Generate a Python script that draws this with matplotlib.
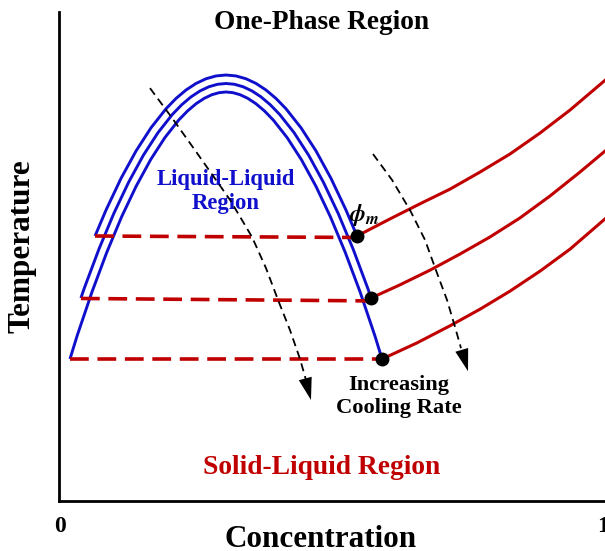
import matplotlib
matplotlib.use("Agg")
import matplotlib.pyplot as plt

plt.rcParams['font.family'] = ['Liberation Serif', 'DejaVu Serif']
plt.rcParams['font.weight'] = 'bold'
plt.rcParams['mathtext.fontset'] = 'stix'

BLUE = '#1010cc'
RED = '#c00000'

# ---- data (concentration 0..1, temperature arbitrary 0..100) ----
blue_outer_x = [0.0645, 0.0847, 0.1123, 0.1400, 0.1676, 0.1952, 0.2136, 0.2320, 0.2505, 0.2689,
                0.2873, 0.3057, 0.3241, 0.3425, 0.3610, 0.3794, 0.3978, 0.4162, 0.4438, 0.4715,
                0.4991, 0.5267, 0.5470]
blue_outer_y = [54.10, 59.41, 65.90, 71.52, 76.28, 80.17, 82.28, 84.01, 85.36, 86.32,
                86.90, 87.09, 86.90, 86.32, 85.36, 84.01, 82.28, 80.17, 76.28, 71.52,
                65.90, 59.41, 54.10]
blue_middle_x = [0.0385, 0.0442, 0.0717, 0.0990, 0.1263, 0.1534, 0.1804, 0.2069, 0.2243, 0.2414,
                 0.2581, 0.2744, 0.2902, 0.3057, 0.3212, 0.3370, 0.3533, 0.3700, 0.3871, 0.4045,
                 0.4311, 0.4580, 0.4851, 0.5124, 0.5398, 0.5672, 0.5729]
blue_middle_y = [41.39, 43.26, 51.42, 58.70, 65.11, 70.63, 75.27, 79.01, 81.01, 82.62,
                 83.84, 84.69, 85.19, 85.35, 85.19, 84.69, 83.84, 82.62, 81.01, 79.01,
                 75.27, 70.63, 65.11, 58.70, 51.42, 43.26, 41.39]
blue_inner_x = [0.0183, 0.0316, 0.0590, 0.0862, 0.1133, 0.1403, 0.1669, 0.1931, 0.2186, 0.2350,
                0.2508, 0.2658, 0.2799, 0.2931, 0.3057, 0.3184, 0.3315, 0.3456, 0.3606, 0.3764,
                0.3928, 0.4183, 0.4445, 0.4712, 0.4981, 0.5252, 0.5525, 0.5798, 0.5931]
blue_inner_y = [28.89, 33.69, 42.68, 50.78, 58.00, 64.32, 69.75, 74.26, 77.86, 79.74,
                81.23, 82.32, 83.06, 83.47, 83.61, 83.47, 83.06, 82.32, 81.23, 79.74,
                77.86, 74.26, 69.75, 64.32, 58.00, 50.78, 42.68, 33.69, 28.89]

red_top_x = [0.5470, 0.6077, 0.6630, 0.7182, 0.7735, 0.8287, 0.8840, 0.9392, 1.0037]
red_top_y = [54.1, 57.6, 60.7, 63.7, 67.2, 70.9, 75.2, 79.9, 86.0]
red_mid_x = [0.5729, 0.6262, 0.6814, 0.7366, 0.7919, 0.8471, 0.9024, 0.9576, 1.0037]
red_mid_y = [41.39, 44.1, 47.1, 50.4, 53.9, 57.8, 62.3, 67.2, 71.5]
red_bot_x = [0.5931, 0.6575, 0.7182, 0.7735, 0.8287, 0.8840, 0.9392, 1.0037]
red_bot_y = [28.89, 32.2, 35.7, 39.1, 42.8, 46.9, 51.4, 57.6]

tie_x_start = [0.0645, 0.0385, 0.0183]
tie_x_end = [0.5470, 0.5729, 0.5931]
tie_y_start = [54.1, 41.3, 28.9]
tie_y_end = [53.8, 40.8, 28.9]

dot_x = [0.5470, 0.5729, 0.5931]
dot_y = [54.1, 41.39, 28.89]

arrow1_x = [0.1657, 0.2063, 0.2523, 0.3131, 0.3536, 0.3794, 0.4015, 0.4236, 0.4420, 0.4530]
arrow1_y = [84.4, 78.3, 71.1, 61.5, 53.9, 47.5, 41.0, 34.8, 28.9, 24.6]
arrow1_tip = (0.4622, 20.5)
arrow2_x = [0.5764, 0.6114, 0.6446, 0.6722, 0.6943, 0.7127, 0.7274, 0.7385]
arrow2_y = [70.9, 65.6, 59.4, 53.3, 46.5, 41.0, 35.5, 31.1]
arrow2_tip = (0.7514, 26.4)

x_ticks = [0, 1]
x_tick_labels = ['0', '1']

# ---- figure ----
fig = plt.figure(figsize=(6.05, 5.51), dpi=100)
ax = fig.add_axes([58.5 / 605, 50 / 551, 546.5 / 605, 489 / 551])
ax.set_xlim(-0.0028, 1.0037)
ax.set_ylim(-0.2, 100)

for s in ['top', 'right']:
    ax.spines[s].set_visible(False)
for s in ['left', 'bottom']:
    ax.spines[s].set_linewidth(2.0)
    ax.spines[s].set_color('black')

ax.set_yticks([])
ax.set_xticks(x_ticks)
ax.set_xticklabels(x_tick_labels, fontsize=17, fontweight='bold')
ax.tick_params(axis='x', length=0, pad=11)

# blue binodal curves
for xs, ys in [(blue_outer_x, blue_outer_y), (blue_middle_x, blue_middle_y), (blue_inner_x, blue_inner_y)]:
    ax.plot(xs, ys, color=BLUE, lw=2.1, solid_capstyle='butt', solid_joinstyle='round', zorder=3)

# red dashed tie lines
for xs0, xs1, ys0, ys1 in zip(tie_x_start, tie_x_end, tie_y_start, tie_y_end):
    ax.plot([xs0, xs1], [ys0, ys1], color=RED, lw=2.6, dashes=(5.2, 2.4), zorder=4)

# red liquidus curves
for xs, ys in [(red_top_x, red_top_y), (red_mid_x, red_mid_y), (red_bot_x, red_bot_y)]:
    ax.plot(xs, ys, color=RED, lw=2.2, solid_joinstyle='round', zorder=3, clip_on=False)

# dots
ax.plot(dot_x, dot_y, 'o', color='black', ms=9, zorder=6)

# dashed arrows
for xs, ys, tip in [(arrow1_x, arrow1_y, arrow1_tip), (arrow2_x, arrow2_y, arrow2_tip)]:
    ax.plot(xs, ys, color='black', lw=1.3, dashes=(4.5, 2.8), zorder=5)
    ax.annotate('', xy=tip, xytext=(xs[-2], ys[-2]),
                arrowprops=dict(arrowstyle='-|>,head_length=1.0,head_width=0.3',
                                mutation_scale=16, lw=0, color='black',
                                shrinkA=0, shrinkB=0),
                zorder=5)

# texts
ax.text(0.4825, 97.95, 'One-Phase Region', ha='center', va='center', fontsize=19.7,
        fontweight='bold', color='black')
ax.text(0.3057, 63.2, 'Liquid-Liquid\nRegion', ha='center', va='center', fontsize=16.3,
        fontweight='bold', color=BLUE, linespacing=1.2)
ax.text(0.5600, 58.4, r'$\boldsymbol{\phi}_{\boldsymbol{m}}$', ha='center', va='center',
        fontsize=17, color='black')
ax.text(0.6243, 23.6, 'Increasing', ha='center', va='center', fontsize=16.2,
        fontweight='bold', color='black')
ax.text(0.6243, 18.9, 'Cooling Rate', ha='center', va='center', fontsize=16.2,
        fontweight='bold', color='black')
ax.text(0.4816, 6.6, 'Solid-Liquid Region', ha='center', va='center', fontsize=19.8,
        fontweight='bold', color=RED)

ax.set_xlabel('Concentration', fontsize=22.4, fontweight='bold', va='baseline')
ax.xaxis.set_label_coords((321 - 58.5) / 546.5, (501 - 547) / 489)
ax.set_ylabel('Temperature', fontsize=22.5, fontweight='bold', va='center', ha='center')
ax.yaxis.set_label_coords((22 - 58.5) / 546.5, (501 - 246) / 489)

fig.savefig('out.png', dpi=100)
